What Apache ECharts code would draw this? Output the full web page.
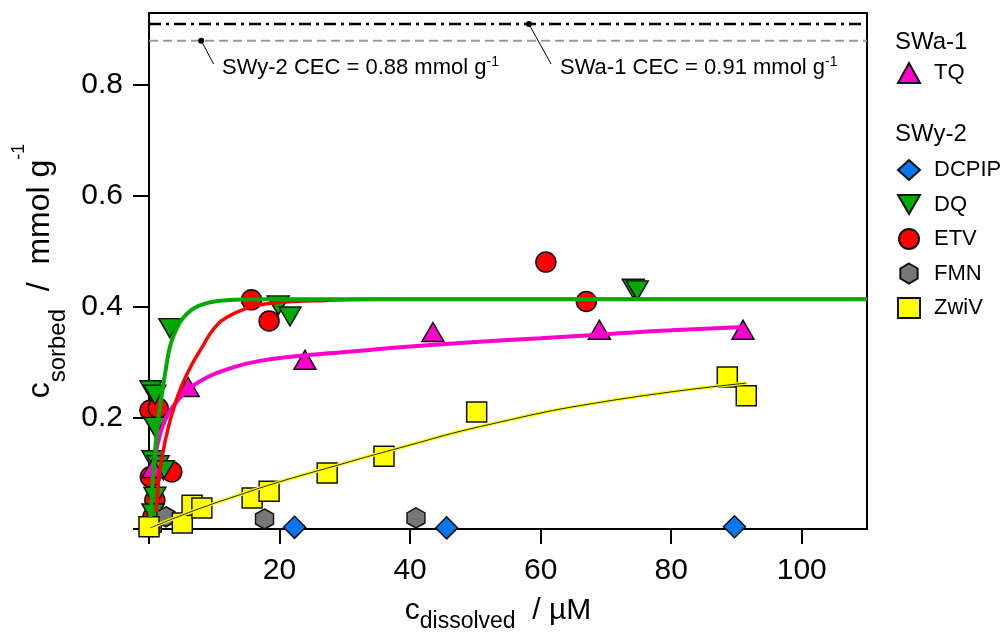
<!DOCTYPE html>
<html>
<head>
<meta charset="utf-8">
<script src="https://cdn.jsdelivr.net/npm/echarts@6/dist/echarts.min.js"></script>
<style>
html, body { margin: 0; padding: 0; background: #fff; }
#chart { width: 1007px; height: 634px; }
</style>
</head>
<body>
<div id="chart"></div>
<script>
// measured points, c_dissolved (uM) vs c_sorbed (mmol/g)
var tqX = [0.6, 6.0, 23.9, 43.5, 69.0, 91.0];
var tqY = [0.110, 0.256, 0.305, 0.355, 0.359, 0.359];

var dcpipX = [22.3, 45.6, 89.7];
var dcpipY = [0.003, 0.002, 0.004];

var dqX = [0.3, 0.9, 0.9, 0.6, 1.4, 2.2, 0.9, 0.6, 3.2, 19.8, 21.6, 74.2, 74.8];
var dqY = [0.250, 0.242, 0.184, 0.124, 0.115, 0.106, 0.058, 0.028, 0.362, 0.403, 0.383, 0.433, 0.430];

var etvX = [0.15, 1.4, 3.5, 0.2, 0.9, 0.6, 15.7, 18.4, 60.8, 67.0];
var etvY = [0.214, 0.218, 0.103, 0.094, 0.052, 0.022, 0.413, 0.375, 0.481, 0.410];

var fmnX = [0.5, 2.6, 17.7, 40.9];
var fmnY = [0.004, 0.022, 0.018, 0.020];

var zwiX = [0.0, 5.1, 6.6, 8.1, 15.8, 18.4, 27.3, 36.0, 50.2, 88.6, 91.5];
var zwiY = [0.004, 0.011, 0.043, 0.038, 0.056, 0.068, 0.101, 0.131, 0.211, 0.274, 0.240];

// fitted isotherms
var tqFitX = [0.5, 1, 1.7, 2.5, 3.5, 5, 6.5, 9, 12, 17, 24, 30, 40, 50, 60, 70, 80, 91];
var tqFitY = [0.09, 0.135, 0.17, 0.197, 0.218, 0.24, 0.256, 0.274, 0.288, 0.303, 0.313, 0.319, 0.329, 0.337, 0.344, 0.351, 0.358, 0.364];

var dqFitX = [0.2, 0.6, 1, 1.5, 2, 2.6, 3.2, 4, 5, 6.5, 8, 10, 13, 18, 30, 110];
var dqFitY = [0.02, 0.09, 0.15, 0.205, 0.245, 0.29, 0.328, 0.355, 0.377, 0.395, 0.404, 0.41, 0.413, 0.414, 0.414, 0.414];

var etvFitX = [1.1, 1.5, 2, 3, 4, 5, 6.5, 8, 10, 12, 15, 18, 22, 27, 35, 50, 110];
var etvFitY = [0.03, 0.09, 0.13, 0.185, 0.225, 0.258, 0.295, 0.325, 0.362, 0.382, 0.398, 0.406, 0.41, 0.412, 0.414, 0.414, 0.414];

var zwiFitX = [0.2, 4, 8, 14, 20, 28, 38, 52, 70, 91.5];
var zwiFitY = [0.002, 0.02, 0.038, 0.062, 0.085, 0.112, 0.145, 0.188, 0.23, 0.263];

// CEC reference lines
var cecX = [0, 110];
var swa1Cec = 0.91;
var swy2Cec = 0.88;

var xTicks = [0, 20, 40, 60, 80, 100];
var xLabels = [20, 40, 60, 80, 100];
var yTicks = [0, 0.2, 0.4, 0.6, 0.8];
var yLabels = [0.2, 0.4, 0.6, 0.8];

var FONT = 'Liberation Sans, Arial, Helvetica, sans-serif';
var HEX = 'path://M0,-10L8.66,-5L8.66,5L0,10L-8.66,5L-8.66,-5Z';
var DOWN = 'path://M0,0L22,0L11,19Z';

function zip(xs, ys) {
    return xs.map(function (x, i) { return [x, ys[i]]; });
}

function fitLine(name, xs, ys, color, width) {
    return {
        name: name, type: 'line', data: zip(xs, ys),
        showSymbol: false, symbol: 'none', smooth: 0.5,
        lineStyle: { color: color, width: width }, silent: true
    };
}

function dots(name, xs, ys, symbol, size, color, rotate) {
    return {
        name: name, type: 'scatter', data: zip(xs, ys),
        symbol: symbol, symbolSize: size, symbolRotate: rotate || 0,
        itemStyle: { color: color, borderColor: '#111', borderWidth: 1.5, opacity: 1 }
    };
}

var myChart = echarts.init(document.getElementById('chart'));
var option = {
    animation: false,
    backgroundColor: '#fff',
    grid: {
        left: 149, right: 140, top: 13, bottom: 105,
        show: true, borderColor: '#000', borderWidth: 2,
        outerBoundsMode: 'none'
    },
    xAxis: {
        type: 'value', min: 0, max: 110,
        axisLine: { lineStyle: { color: '#000', width: 2 } },
        axisTick: { customValues: xTicks, length: 15, lineStyle: { color: '#000', width: 2 } },
        axisLabel: {
            customValues: xLabels, margin: 27, color: '#000', fontSize: 30, fontFamily: FONT
        },
        splitLine: { show: false },
        name: '{m|c}{s|dissolved}{m|  / µM}',
        nameLocation: 'middle', nameGap: 60,
        nameTextStyle: {
            color: '#000', fontFamily: FONT, padding: [0, 20, 0, 0],
            rich: {
                m: { fontSize: 30, lineHeight: 44, fontFamily: FONT, color: '#000' },
                s: { fontSize: 23, lineHeight: 22, verticalAlign: 'bottom', fontFamily: FONT, color: '#000' }
            }
        }
    },
    yAxis: {
        type: 'value', min: 0, max: 0.93,
        axisLine: { lineStyle: { color: '#000', width: 2 } },
        axisTick: { customValues: yTicks, length: 16, lineStyle: { color: '#000', width: 2 } },
        axisLabel: {
            customValues: yLabels, margin: 26, color: '#000', fontSize: 30, fontFamily: FONT,
            formatter: function (v) { return v.toFixed(1); }
        },
        splitLine: { show: false },
        name: '{m|c}{s|sorbed}{m|  /  mmol g}{p|-1}',
        nameLocation: 'middle', nameRotate: 90, nameGap: 79,
        nameTextStyle: {
            color: '#000', fontFamily: FONT,
            rich: {
                m: { fontSize: 32, lineHeight: 60, fontFamily: FONT, color: '#000' },
                s: { fontSize: 24, lineHeight: 38, verticalAlign: 'bottom', fontFamily: FONT, color: '#000' },
                p: { fontSize: 18, lineHeight: 16, verticalAlign: 'top', fontFamily: FONT, color: '#000' }
            }
        }
    },
    legend: [{
        data: ['TQ'],
        orient: 'vertical', left: 897, top: 62, padding: 0,
        itemWidth: 22, itemHeight: 20, itemGap: 12.5,
        textStyle: { color: '#000', fontSize: 22, fontFamily: FONT, padding: [0, 0, 0, 9] }
    }, {
        data: ['DCPIP', { name: 'DQ', icon: DOWN }, 'ETV', 'FMN', 'ZwiV'],
        orient: 'vertical', left: 897, top: 159, padding: 0,
        itemWidth: 22, itemHeight: 20, itemGap: 12.5,
        textStyle: { color: '#000', fontSize: 22, fontFamily: FONT, padding: [0, 0, 0, 9] }
    }],
    graphic: [
        { type: 'text', x: 895, y: 42, style: { text: 'SWa-1', font: '24px ' + FONT, fill: '#000', verticalAlign: 'middle' } },
        { type: 'text', x: 895, y: 134, style: { text: 'SWy-2', font: '24px ' + FONT, fill: '#000', verticalAlign: 'middle' } },
        {
            type: 'text', x: 222, y: 68,
            style: {
                text: '{a|SWy-2 CEC = 0.88 mmol g}{b|-1}', verticalAlign: 'middle',
                rich: {
                    a: { fontSize: 22, lineHeight: 26, fontFamily: FONT, fill: '#000' },
                    b: { fontSize: 14, lineHeight: 16, verticalAlign: 'top', fontFamily: FONT, fill: '#000' }
                }
            }
        },
        {
            type: 'text', x: 560, y: 68,
            style: {
                text: '{a|SWa-1 CEC = 0.91 mmol g}{b|-1}', verticalAlign: 'middle',
                rich: {
                    a: { fontSize: 22, lineHeight: 26, fontFamily: FONT, fill: '#000' },
                    b: { fontSize: 14, lineHeight: 16, verticalAlign: 'top', fontFamily: FONT, fill: '#000' }
                }
            }
        }
    ],
    series: [
        {
            name: 'SWa-1 CEC', type: 'line', symbol: 'none', silent: true,
            data: zip(cecX, [swa1Cec, swa1Cec]),
            lineStyle: { color: '#000', width: 2.5, type: [12, 5, 3, 5] }
        },
        {
            name: 'SWy-2 CEC', type: 'line', symbol: 'none', silent: true,
            data: zip(cecX, [swy2Cec, swy2Cec]),
            lineStyle: { color: '#999', width: 2, type: [9, 5] }
        },
        {
            name: 'lead1', type: 'line', silent: true, showSymbol: true,
            data: [{ value: [8.0, swy2Cec], symbol: 'circle', symbolSize: 6 }, { value: [9.9, 0.838], symbol: 'none' }],
            lineStyle: { color: '#000', width: 1 }, itemStyle: { color: '#000' }
        },
        {
            name: 'lead2', type: 'line', silent: true, showSymbol: true,
            data: [{ value: [58.2, swa1Cec], symbol: 'circle', symbolSize: 6 }, { value: [61.6, 0.838], symbol: 'none' }],
            lineStyle: { color: '#000', width: 1 }, itemStyle: { color: '#000' }
        },
        fitLine('TQ fit', tqFitX, tqFitY, '#ff00cc', 4),
        fitLine('ETV fit', etvFitX, etvFitY, '#ff0000', 3.5),
        fitLine('DQ fit', dqFitX, dqFitY, '#00aa00', 4),
        fitLine('ZwiV fit', zwiFitX, zwiFitY, '#ffff00', 3.5),
        fitLine('ZwiV fit edge', zwiFitX, zwiFitY, '#222', 1),
        dots('ETV', etvX, etvY, 'circle', 20, '#ff0000'),
        dots('DQ', dqX, dqY, 'triangle', [22, 19], '#00aa00', 180),
        dots('TQ', tqX, tqY, 'triangle', [22, 19], '#ff00cc'),
        dots('FMN', fmnX, fmnY, HEX, [18, 20], '#777777'),
        dots('DCPIP', dcpipX, dcpipY, 'diamond', [22, 22], '#0077ee'),
        dots('ZwiV', zwiX, zwiY, 'rect', 20, '#ffff00')
    ]
};
myChart.setOption(option);
window.addEventListener('resize', function () {
    myChart.resize();
});
</script>
</body>
</html>
